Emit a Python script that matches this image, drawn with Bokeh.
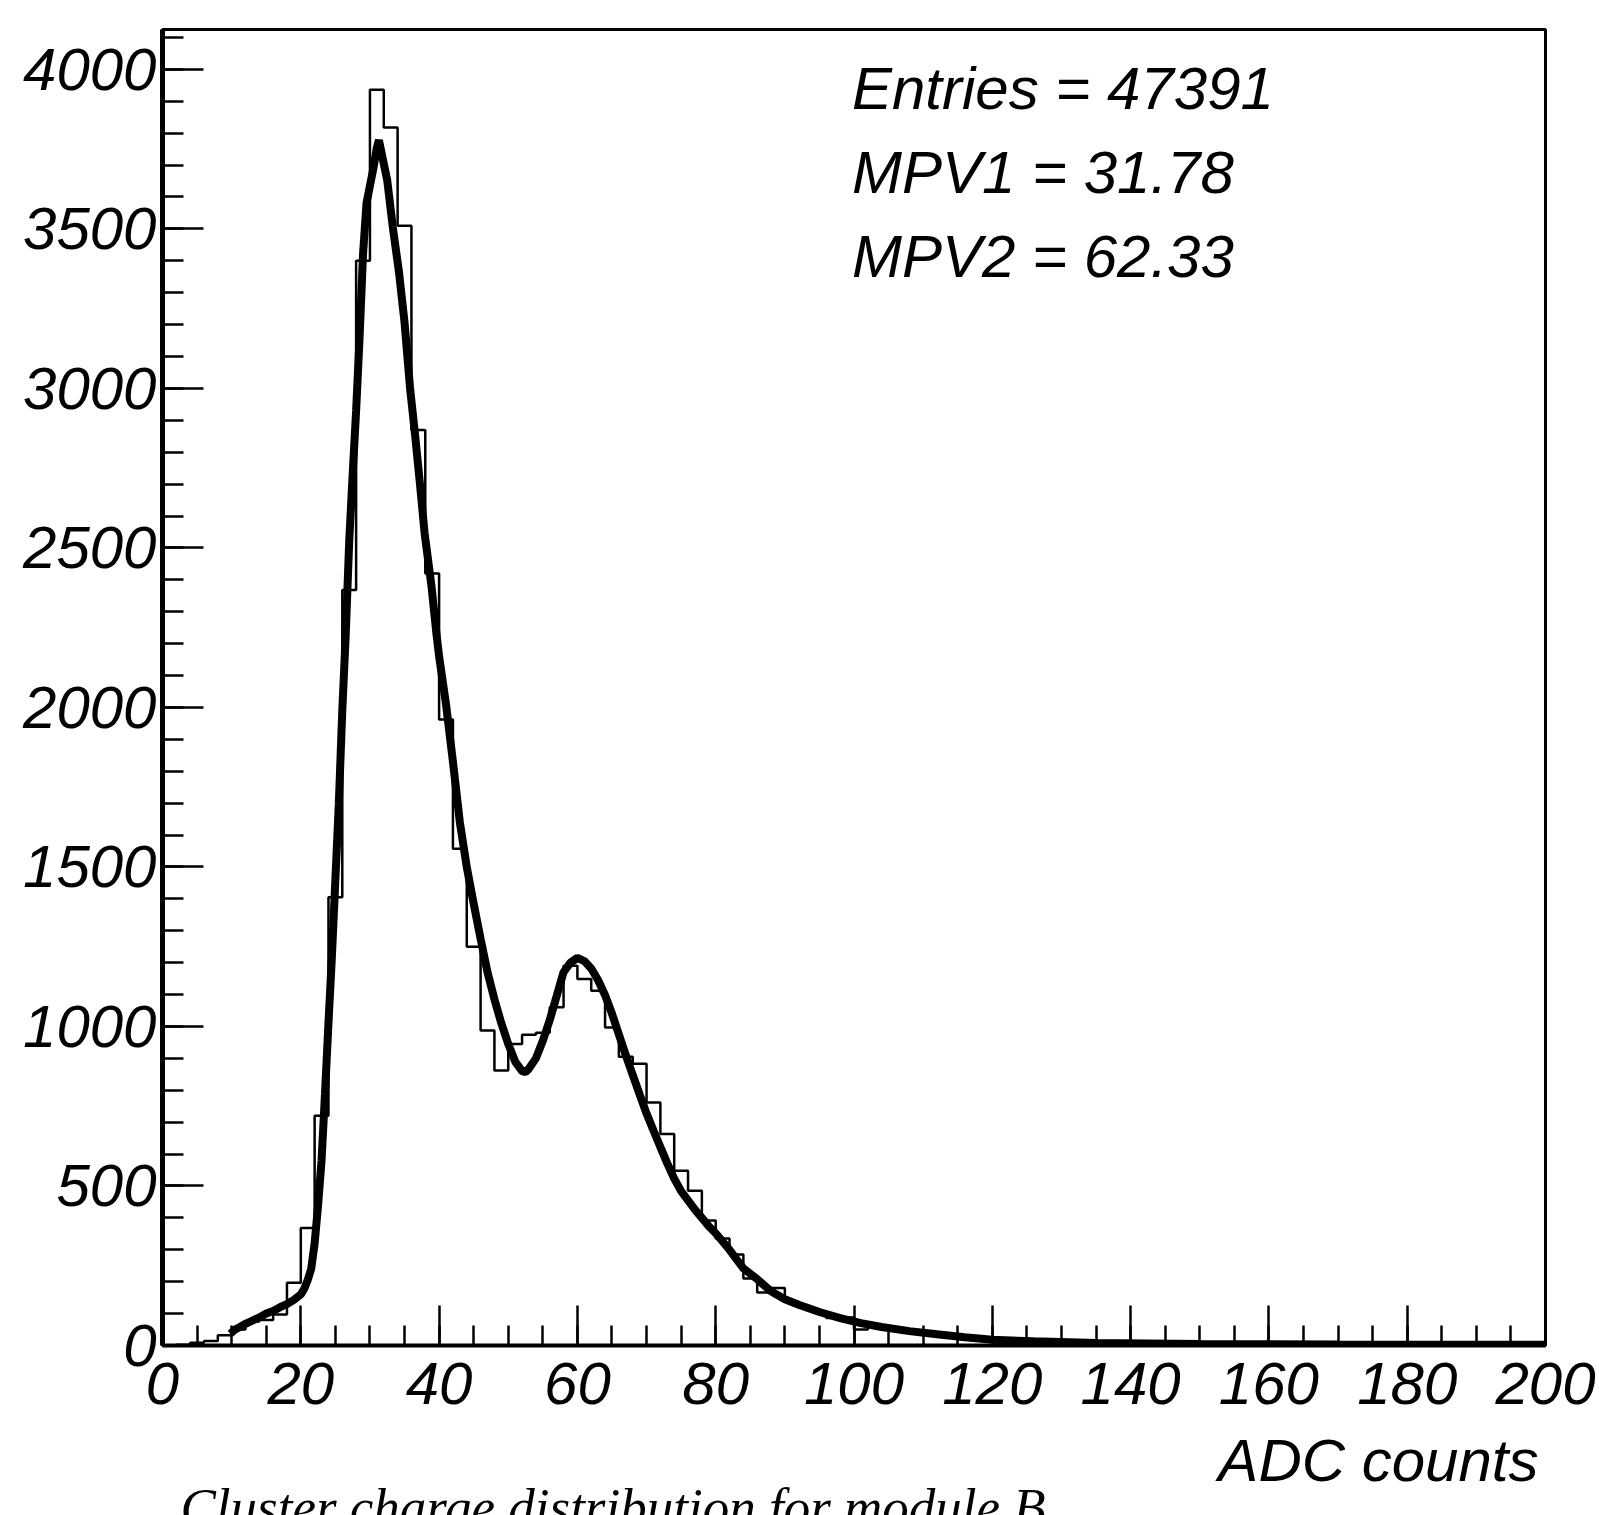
from bokeh.plotting import figure
from bokeh.models import Range1d, SingleIntervalTicker, Label
from bokeh.layouts import column
from bokeh.embed import file_html
from bokeh.resources import INLINE

# ---- data ----
bin_lo = list(range(0, 200, 2))          # 100 bins of width 2 ADC counts
counts = [
    0, 2, 9, 14, 32, 50, 75, 80, 97, 197,
    368, 720, 1405, 2368, 3400, 3936, 3818, 3510, 2870, 2420,
    1962, 1557, 1250, 987, 862, 945, 974, 980, 1060, 1190,
    1149, 1112, 997, 905, 883, 762, 663, 548, 485, 392,
    335, 285, 210, 166, 180, 137, 120, 105, 86, 88,
    50, 58, 52, 45, 40, 35, 30, 26, 22, 19,
    16, 14, 12, 10, 8, 7, 6, 5, 5, 4,
    4, 3, 3, 3, 2, 2, 2, 2, 2, 1,
    1, 1, 1, 1, 1, 1, 1, 1, 1, 1,
    1, 0, 1, 0, 1, 0, 1, 0, 0, 0,
]

fit_x = [9.8, 10.5, 11, 12, 13, 14, 15, 16, 17, 18,
         19, 20, 20.5, 21, 21.5, 22, 22.5, 23, 23.5, 24,
         24.5, 25, 25.5, 26, 26.5, 27, 27.5, 28, 28.5, 29,
         29.5, 30, 30.5, 31, 31.3, 31.7, 32.5, 33.3, 34.2, 35,
         35.8, 36.5, 37.2, 37.9, 38.9, 39.6, 40, 41, 42, 43,
         44, 45, 46, 47, 48, 49, 50, 51, 52, 52.5,
         53, 54, 55, 56, 57, 58, 59, 60, 61, 62,
         63, 64, 65, 66, 67, 68, 69, 70, 71, 72,
         73, 74, 75, 76, 77, 78, 79, 80, 82, 84,
         86, 88, 90, 92, 95, 98, 101, 104, 108, 112,
         116, 120, 126, 135, 150, 170, 200]
fit_y = [37, 50, 56, 68, 78, 88, 100, 108, 120, 130,
         143, 160, 178, 205, 240, 320, 440, 580, 790, 1010,
         1220, 1460, 1700, 1990, 2230, 2520, 2730, 2930, 3160, 3420,
         3580, 3635, 3690, 3755, 3778, 3736, 3652, 3506, 3364, 3207,
         3001, 2860, 2708, 2547, 2380, 2234, 2160, 2010, 1830, 1640,
         1500, 1385, 1275, 1170, 1085, 1010, 945, 890, 860, 857,
         868, 900, 955, 1020, 1095, 1170, 1200, 1215, 1205, 1182,
         1145, 1098, 1040, 975, 910, 848, 787, 727, 674, 622,
         571, 523, 484, 455, 426, 400, 374, 352, 300, 242,
         208, 170, 145, 128, 105, 86, 70, 58, 45, 35,
         26, 18, 13, 8, 5, 3, 2]

stats_lines = ["Entries = 47391", "MPV1 = 31.78", "MPV2 = 62.33"]
x_title = "ADC counts"
caption = "Cluster  charge distribution for module B"

# ---- main histogram figure ----
p = figure(frame_width=1383, frame_height=1316,
           x_range=Range1d(0, 200), y_range=Range1d(0, 4125),
           output_backend="svg", toolbar_location=None,
           min_border_left=162, min_border_right=54,
           min_border_top=29, min_border_bottom=84)

p.background_fill_color = "white"
p.border_fill_color = "white"
p.grid.visible = False
p.outline_line_color = "black"
p.outline_line_width = 3
p.outline_line_alpha = 1.0

p.xaxis.ticker = SingleIntervalTicker(interval=20, num_minor_ticks=4)
p.yaxis.ticker = SingleIntervalTicker(interval=500, num_minor_ticks=5)

for ax in (p.xaxis, p.yaxis):
    ax.axis_line_color = "black"
    ax.major_tick_line_color = "black"
    ax.minor_tick_line_color = "black"
    ax.major_tick_line_width = 2.5
    ax.minor_tick_line_width = 2.5
    ax.major_tick_out = 0
    ax.minor_tick_out = 0
    ax.major_label_text_font = "Liberation Sans"
    ax.major_label_text_font_style = "italic"
    ax.major_label_text_font_size = "60px"
    ax.major_label_text_color = "black"

p.xaxis.axis_line_width = 4
p.yaxis.axis_line_width = 5
p.xaxis.major_tick_in = 40
p.xaxis.minor_tick_in = 20
p.yaxis.major_tick_in = 41
p.yaxis.minor_tick_in = 21
p.xaxis.major_label_standoff = 17
p.yaxis.major_label_standoff = 6

# histogram outline
step_x = bin_lo + [200]
step_y = counts + [counts[-1]]
p.step(step_x, step_y, mode="after", line_color="black", line_width=2.5)

# fit curve
p.line(fit_x, fit_y, line_color="black", line_width=8)

# statistics box text
stat_y = [3940, 3677, 3415]
for txt, yy in zip(stats_lines, stat_y):
    p.add_layout(Label(x=99.7, y=yy, text=txt, text_font="Liberation Sans",
                       text_font_style="italic", text_font_size="60px",
                       text_color="black", text_align="left",
                       text_baseline="alphabetic"))

# ---- strip below for the axis title and caption ----
# same horizontal borders as the main plot, data x == page pixel x,
# data y == pixels below the strip's top edge
q_h = 86
q = figure(frame_width=1383, frame_height=q_h,
           x_range=Range1d(162, 1545), y_range=Range1d(q_h, 0),
           output_backend="svg", toolbar_location=None,
           x_axis_type=None, y_axis_type=None,
           min_border_left=162, min_border_right=54,
           min_border_top=0, min_border_bottom=0)
q.grid.visible = False
q.outline_line_color = None
q.background_fill_color = "white"
q.border_fill_color = "white"

q.add_layout(Label(x=1538, y=31, text=x_title, text_font="Liberation Sans",
                   text_font_style="italic", text_font_size="60px",
                   text_color="black", text_align="right",
                   text_baseline="alphabetic"))
q.add_layout(Label(x=180, y=77, text=caption, text_font="Liberation Serif",
                   text_font_style="italic", text_font_size="53px",
                   text_color="black", text_align="left",
                   text_baseline="alphabetic"))

layout = column(p, q, spacing=0)
open("out.html", "w").write(file_html(layout, INLINE))
